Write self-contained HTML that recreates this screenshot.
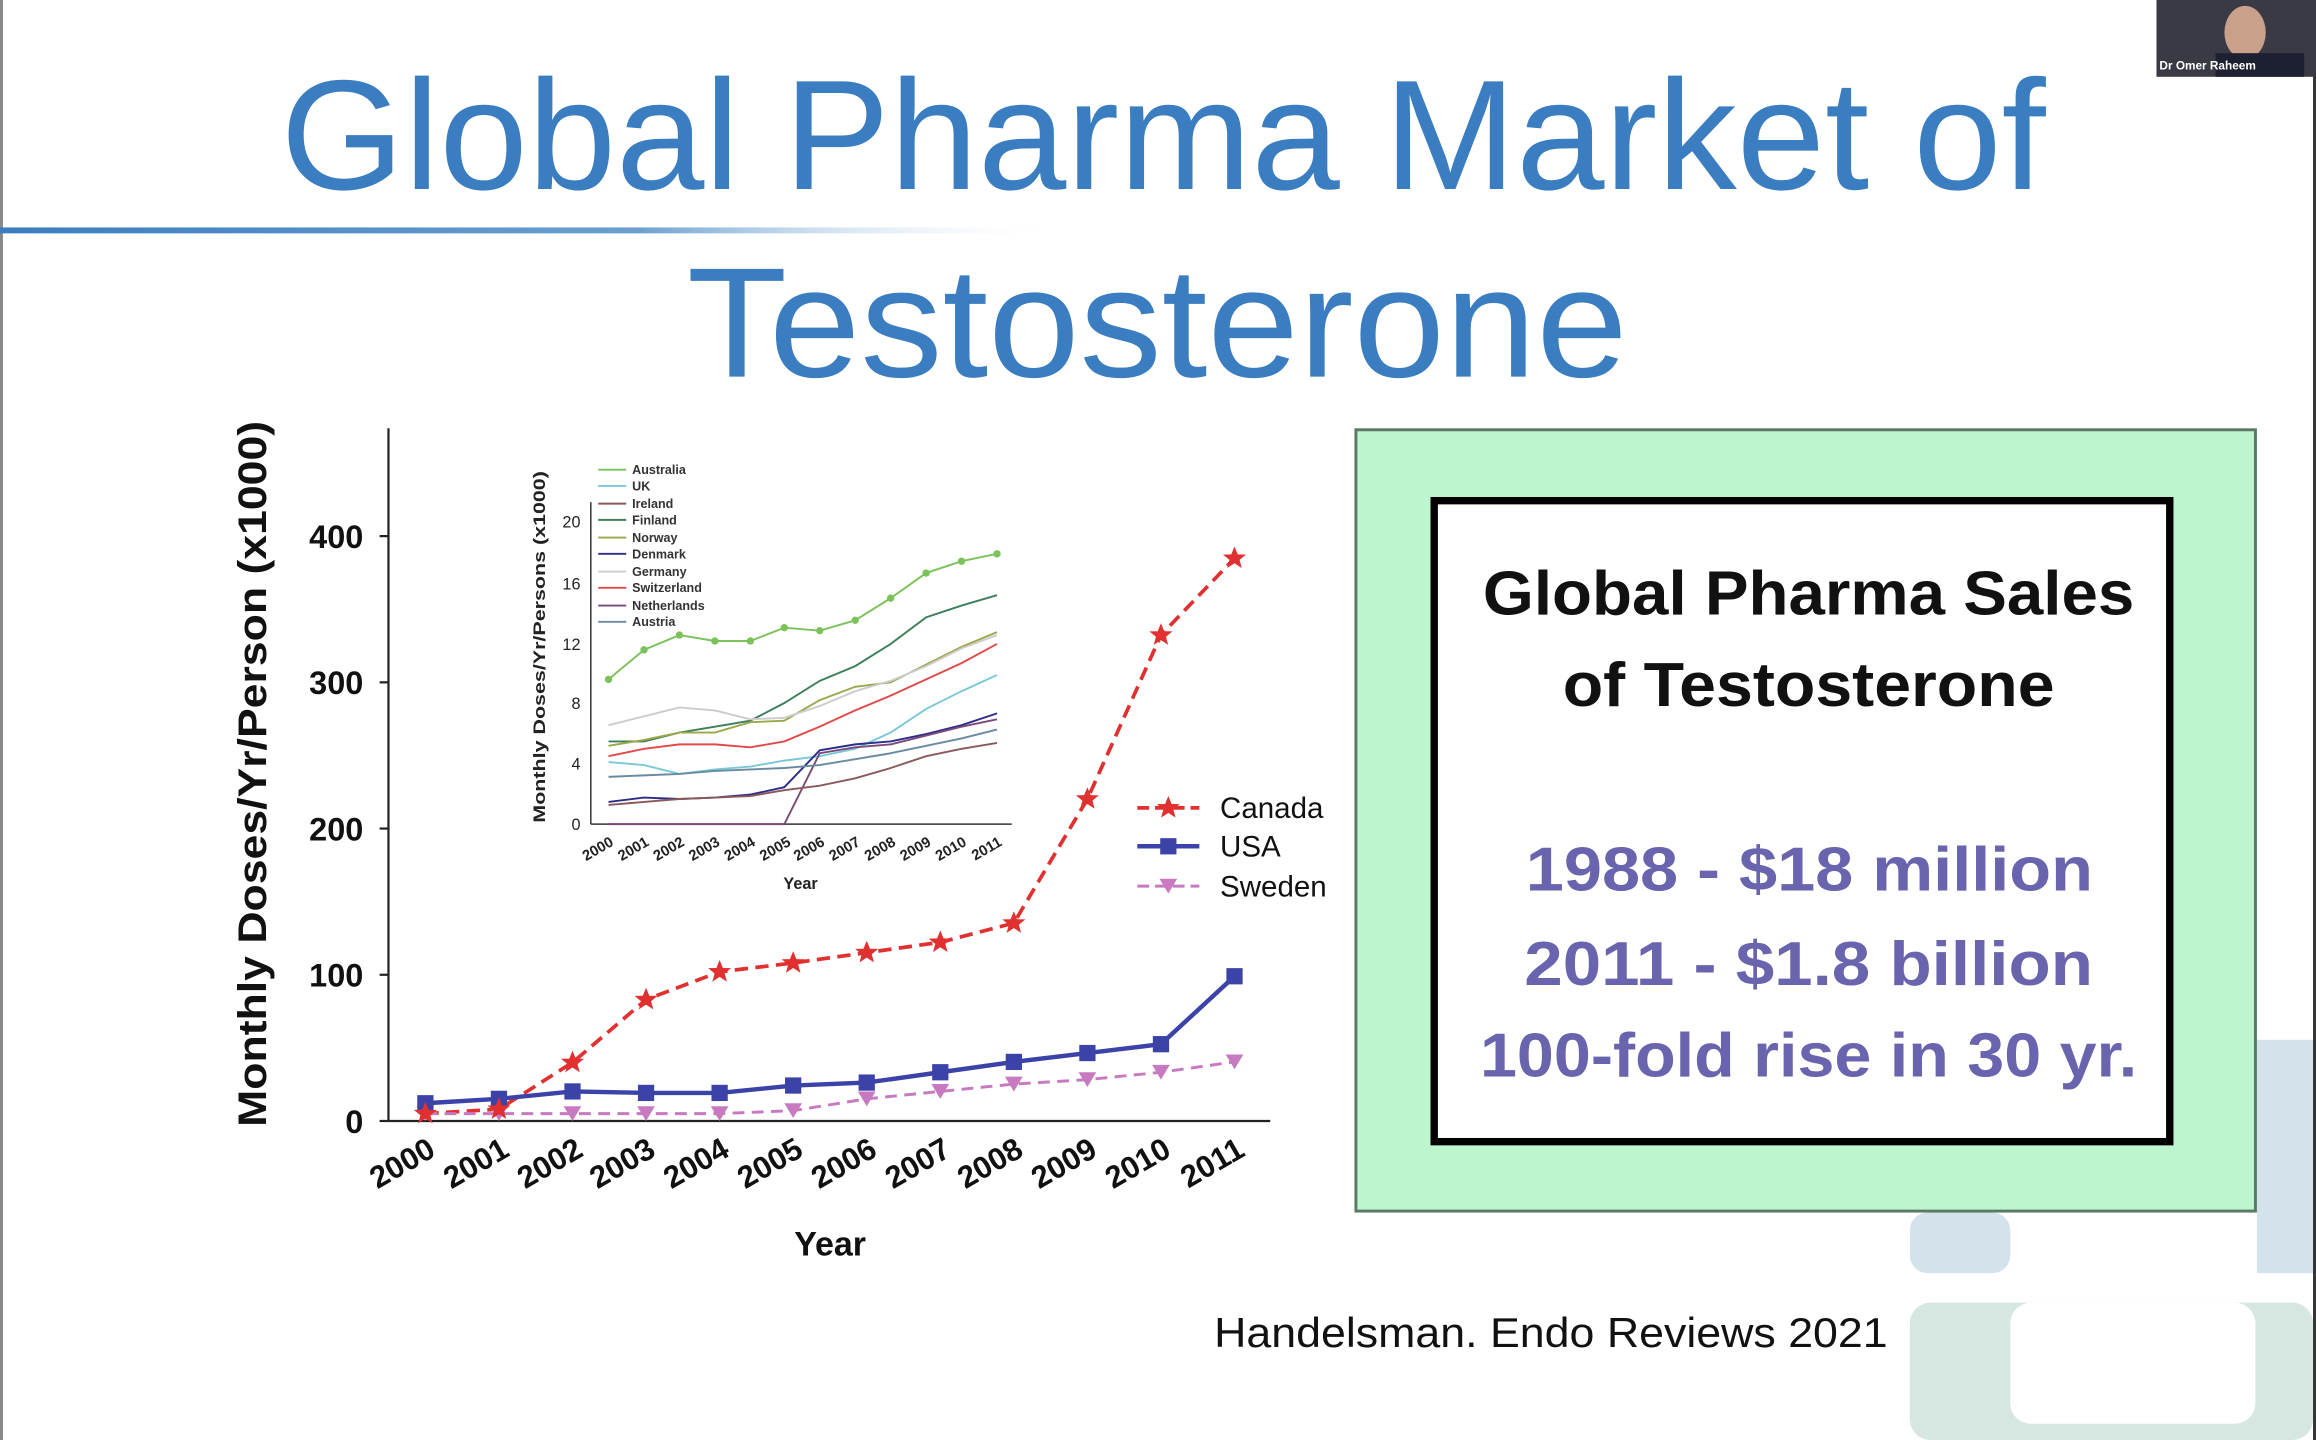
<!DOCTYPE html>
<html><head><meta charset="utf-8"><style>
html,body{margin:0;padding:0;background:#fff;overflow:hidden}
svg{display:block}
</style></head><body>
<svg width="2316" height="1440" viewBox="0 0 1568 975" preserveAspectRatio="none" xmlns="http://www.w3.org/2000/svg" font-family="Liberation Sans, sans-serif">
<defs>
<linearGradient id="ln" x1="0" x2="1"><stop offset="0" stop-color="#3a7dc0"/><stop offset="0.6" stop-color="#6b9fd0"/><stop offset="1" stop-color="#fff" stop-opacity="0"/></linearGradient>
<polygon id="star" points="0,-8 2.2,-2.6 7.8,-2.5 3.4,1.1 4.9,6.6 0,3.4 -4.9,6.6 -3.4,1.1 -7.8,-2.5 -2.2,-2.6" fill="#e03030"/>
<rect id="sq" x="-5.5" y="-5.5" width="11" height="11" fill="#3b43a8"/>
<polygon id="tri" points="-6,-5 6,-5 0,5" fill="#c77ac0"/>
</defs>
<rect width="1568" height="975" fill="#fff"/>
<!-- decorative -->
<rect x="1528" y="704" width="38" height="158" fill="#d4e2ec"/>
<rect x="1293" y="821" width="68" height="41" rx="12" fill="#d4e2ec"/>
<rect x="1293" y="882" width="273" height="93" rx="14" fill="#d6e6e0"/>
<rect x="1361" y="882" width="166" height="82" rx="14" fill="#fff"/>
<rect x="1566" y="0" width="2" height="975" fill="#333"/>
<rect x="0" y="0" width="2" height="975" fill="#888"/>
<!-- webcam -->
<rect x="1460" y="0" width="108" height="52" fill="#3a3a44"/>
<ellipse cx="1520" cy="22" rx="14" ry="18" fill="#c9a08a"/>
<rect x="1500" y="36" width="60" height="16" fill="#1d2030"/>
<text x="1462" y="47" font-size="8" fill="#fff" font-weight="bold">Dr Omer Raheem</text>
<!-- title -->
<text x="190" y="128" font-size="106" fill="#3a7dc0" textLength="1195" lengthAdjust="spacingAndGlyphs">Global Pharma Market of</text>
<text x="465" y="255" font-size="106" fill="#3a7dc0" textLength="637" lengthAdjust="spacingAndGlyphs">Testosterone</text>
<rect x="0" y="154" width="720" height="4" fill="url(#ln)"/>
<!-- main chart axes -->
<g stroke="#222" stroke-width="1.5" fill="none">
<line x1="263" y1="290" x2="263" y2="759"/>
<line x1="263" y1="759" x2="860" y2="759"/>
<line x1="257" y1="759" x2="263" y2="759"/><line x1="257" y1="660" x2="263" y2="660"/><line x1="257" y1="561" x2="263" y2="561"/><line x1="257" y1="462" x2="263" y2="462"/><line x1="257" y1="363" x2="263" y2="363"/>
</g>
<g font-size="22" font-weight="bold" fill="#111" text-anchor="end">
<text x="246" y="767">0</text><text x="246" y="668">100</text><text x="246" y="569">200</text><text x="246" y="470">300</text><text x="246" y="371">400</text>
</g>
<text transform="translate(180,763) rotate(-90)" font-size="27" font-weight="bold" fill="#111" textLength="478" lengthAdjust="spacingAndGlyphs">Monthly Doses/Yr/Person (x1000)</text>
<g font-size="21" font-weight="bold" fill="#111" text-anchor="end">
<text transform="translate(296,782) rotate(-30)">2000</text>
<text transform="translate(346,782) rotate(-30)">2001</text>
<text transform="translate(396,782) rotate(-30)">2002</text>
<text transform="translate(445,782) rotate(-30)">2003</text>
<text transform="translate(495,782) rotate(-30)">2004</text>
<text transform="translate(545,782) rotate(-30)">2005</text>
<text transform="translate(595,782) rotate(-30)">2006</text>
<text transform="translate(645,782) rotate(-30)">2007</text>
<text transform="translate(694,782) rotate(-30)">2008</text>
<text transform="translate(744,782) rotate(-30)">2009</text>
<text transform="translate(794,782) rotate(-30)">2010</text>
<text transform="translate(844,782) rotate(-30)">2011</text>
</g>
<text x="562" y="850" font-size="23" font-weight="bold" text-anchor="middle" fill="#111">Year</text>
<!-- series -->
<polyline points="288,754 337.8,751 387.6,719.4 437.4,676.8 487.2,658 537,652 586.8,645 636.6,638 686.4,625 736.2,541 786,430 835.8,378" fill="none" stroke="#e03030" stroke-width="2.5" stroke-dasharray="9,5"/>
<polyline points="288,747 337.8,744 387.6,739 437.4,740 487.2,740 537,735 586.8,733 636.6,726 686.4,719 736.2,713 786,707 835.8,661" fill="none" stroke="#3b43a8" stroke-width="3"/>
<polyline points="288,754 337.8,754 387.6,754 437.4,754 487.2,754 537,752 586.8,744 636.6,739 686.4,734 736.2,731 786,726 835.8,719" fill="none" stroke="#c77ac0" stroke-width="2" stroke-dasharray="8,5"/>
<g>
<use href="#tri" x="288" y="754"/><use href="#tri" x="337.8" y="754"/><use href="#tri" x="387.6" y="754"/><use href="#tri" x="437.4" y="754"/><use href="#tri" x="487.2" y="754"/><use href="#tri" x="537" y="752"/><use href="#tri" x="586.8" y="744"/><use href="#tri" x="636.6" y="739"/><use href="#tri" x="686.4" y="734"/><use href="#tri" x="736.2" y="731"/><use href="#tri" x="786" y="726"/><use href="#tri" x="835.8" y="719"/>
<use href="#sq" x="288" y="747"/><use href="#sq" x="337.8" y="744"/><use href="#sq" x="387.6" y="739"/><use href="#sq" x="437.4" y="740"/><use href="#sq" x="487.2" y="740"/><use href="#sq" x="537" y="735"/><use href="#sq" x="586.8" y="733"/><use href="#sq" x="636.6" y="726"/><use href="#sq" x="686.4" y="719"/><use href="#sq" x="736.2" y="713"/><use href="#sq" x="786" y="707"/><use href="#sq" x="835.8" y="661"/>
<use href="#star" x="288" y="754"/><use href="#star" x="337.8" y="751"/><use href="#star" x="387.6" y="719.4"/><use href="#star" x="437.4" y="676.8"/><use href="#star" x="487.2" y="658"/><use href="#star" x="537" y="652"/><use href="#star" x="586.8" y="645"/><use href="#star" x="636.6" y="638"/><use href="#star" x="686.4" y="625"/><use href="#star" x="736.2" y="541"/><use href="#star" x="786" y="430"/><use href="#star" x="835.8" y="378"/>
</g>
<!-- legend -->
<line x1="770" y1="547" x2="812" y2="547" stroke="#e03030" stroke-width="2.5" stroke-dasharray="8,4"/><use href="#star" x="791" y="547"/>
<line x1="770" y1="573" x2="812" y2="573" stroke="#3b43a8" stroke-width="3"/><use href="#sq" x="791" y="573"/>
<line x1="770" y1="600" x2="812" y2="600" stroke="#c77ac0" stroke-width="2" stroke-dasharray="8,4"/><use href="#tri" x="791" y="600"/>
<g font-size="20" fill="#111"><text x="826" y="554">Canada</text><text x="826" y="580">USA</text><text x="826" y="607">Sweden</text></g>
<!-- inset -->
<g stroke="#333" stroke-width="1" fill="none">
<line x1="400" y1="340" x2="400" y2="558"/><line x1="400" y1="558" x2="685" y2="558"/>
</g>
<g font-size="11" fill="#222" text-anchor="end">
<text x="393" y="562">0</text><text x="393" y="521">4</text><text x="393" y="480">8</text><text x="393" y="440">12</text><text x="393" y="399">16</text><text x="393" y="357">20</text>
</g>
<text transform="translate(369,557) rotate(-90)" font-size="11" font-weight="bold" fill="#222" textLength="238" lengthAdjust="spacingAndGlyphs">Monthly Doses/Yr/Persons (x1000)</text>
<g font-size="10" font-weight="bold" fill="#222" text-anchor="end">
<text transform="translate(416,572) rotate(-30)">2000</text><text transform="translate(440,572) rotate(-30)">2001</text><text transform="translate(464,572) rotate(-30)">2002</text><text transform="translate(488,572) rotate(-30)">2003</text><text transform="translate(512,572) rotate(-30)">2004</text><text transform="translate(536,572) rotate(-30)">2005</text><text transform="translate(559,572) rotate(-30)">2006</text><text transform="translate(583,572) rotate(-30)">2007</text><text transform="translate(607,572) rotate(-30)">2008</text><text transform="translate(631,572) rotate(-30)">2009</text><text transform="translate(655,572) rotate(-30)">2010</text><text transform="translate(679,572) rotate(-30)">2011</text>
</g>
<text x="542" y="602" font-size="11" font-weight="bold" text-anchor="middle" fill="#222">Year</text>
<g fill="none" stroke-width="1.3">
<polyline stroke="#7cc25a" points="412,460 436,440 460,430 484,434 508,434 531,425 555,427 579,420 603,405 627,388 651,380 675,375"/>
<polyline stroke="#3d7f5a" points="412,502 436,502 460,496 484,492 508,488 531,476 555,461 579,451 603,436 627,418 651,410 675,403"/>
<polyline stroke="#9aa84a" points="412,505 436,501 460,496 484,496 508,489 531,488 555,474 579,465 603,462 627,450 651,438 675,428"/>
<polyline stroke="#cccccc" points="412,491 436,485 460,479 484,481 508,487 531,486 555,478 579,468 603,461 627,451 651,439 675,430"/>
<polyline stroke="#e04a4a" points="412,512 436,507 460,504 484,504 508,506 531,502 555,492 579,481 603,471 627,460 651,449 675,436"/>
<polyline stroke="#7ac8d8" points="412,516 436,518 460,524 484,521 508,519 531,515 555,512 579,507 603,496 627,480 651,468 675,457"/>
<polyline stroke="#2d2d8a" points="412,543 436,540 460,541 484,540 508,538 531,533 555,508 579,504 603,502 627,497 651,491 675,483"/>
<polyline stroke="#7a4a7a" points="412,558 436,558 460,558 484,558 508,558 531,558 555,510 579,506 603,504 627,498 651,492 675,487"/>
<polyline stroke="#8a5a5a" points="412,545 436,543 460,541 484,540 508,539 531,535 555,532 579,527 603,520 627,512 651,507 675,503"/>
<polyline stroke="#6a8aa0" points="412,526 436,525 460,524 484,522 508,521 531,520 555,518 579,514 603,510 627,505 651,500 675,494"/>
</g>
<g fill="#7cc25a"><circle cx="412" cy="460" r="2.5"/><circle cx="436" cy="440" r="2.5"/><circle cx="460" cy="430" r="2.5"/><circle cx="484" cy="434" r="2.5"/><circle cx="508" cy="434" r="2.5"/><circle cx="531" cy="425" r="2.5"/><circle cx="555" cy="427" r="2.5"/><circle cx="579" cy="420" r="2.5"/><circle cx="603" cy="405" r="2.5"/><circle cx="627" cy="388" r="2.5"/><circle cx="651" cy="380" r="2.5"/><circle cx="675" cy="375" r="2.5"/></g>
<g font-size="8.5" font-weight="bold" fill="#333">
<g stroke-width="1.3">
<line x1="405" y1="318" x2="424" y2="318" stroke="#7cc25a"/><line x1="405" y1="329" x2="424" y2="329" stroke="#7ac8d8"/><line x1="405" y1="341" x2="424" y2="341" stroke="#8a5a5a"/><line x1="405" y1="352" x2="424" y2="352" stroke="#3d7f5a"/><line x1="405" y1="364" x2="424" y2="364" stroke="#9aa84a"/><line x1="405" y1="375" x2="424" y2="375" stroke="#2d2d8a"/><line x1="405" y1="387" x2="424" y2="387" stroke="#cccccc"/><line x1="405" y1="398" x2="424" y2="398" stroke="#e04a4a"/><line x1="405" y1="410" x2="424" y2="410" stroke="#7a4a7a"/><line x1="405" y1="421" x2="424" y2="421" stroke="#6a8aa0"/>
</g>
<text x="428" y="321">Australia</text><text x="428" y="332">UK</text><text x="428" y="344">Ireland</text><text x="428" y="355">Finland</text><text x="428" y="367">Norway</text><text x="428" y="378">Denmark</text><text x="428" y="390">Germany</text><text x="428" y="401">Switzerland</text><text x="428" y="413">Netherlands</text><text x="428" y="424">Austria</text>
</g>
<!-- green box -->
<rect x="918" y="291" width="609" height="529" fill="#bdf5cf" stroke="#5a7a66" stroke-width="2"/>
<rect x="971" y="339" width="498" height="434" fill="#fff" stroke="#000" stroke-width="5"/>
<g font-weight="bold" lengthAdjust="spacingAndGlyphs">
<text x="1004" y="416" font-size="42" fill="#111" textLength="441" lengthAdjust="spacingAndGlyphs">Global Pharma Sales</text>
<text x="1058" y="478" font-size="42" fill="#111" textLength="333" lengthAdjust="spacingAndGlyphs">of Testosterone</text>
<text x="1033" y="603" font-size="42" fill="#6a63ad" textLength="384" lengthAdjust="spacingAndGlyphs">1988 - $18 million</text>
<text x="1032" y="667" font-size="42" fill="#6a63ad" textLength="385" lengthAdjust="spacingAndGlyphs">2011 - $1.8 billion</text>
<text x="1002" y="729" font-size="42" fill="#6a63ad" textLength="445" lengthAdjust="spacingAndGlyphs">100-fold rise in 30 yr.</text>
</g>
<text x="822" y="912" font-size="28" fill="#111" textLength="456" lengthAdjust="spacingAndGlyphs">Handelsman. Endo Reviews 2021</text>
</svg>
</body></html>
